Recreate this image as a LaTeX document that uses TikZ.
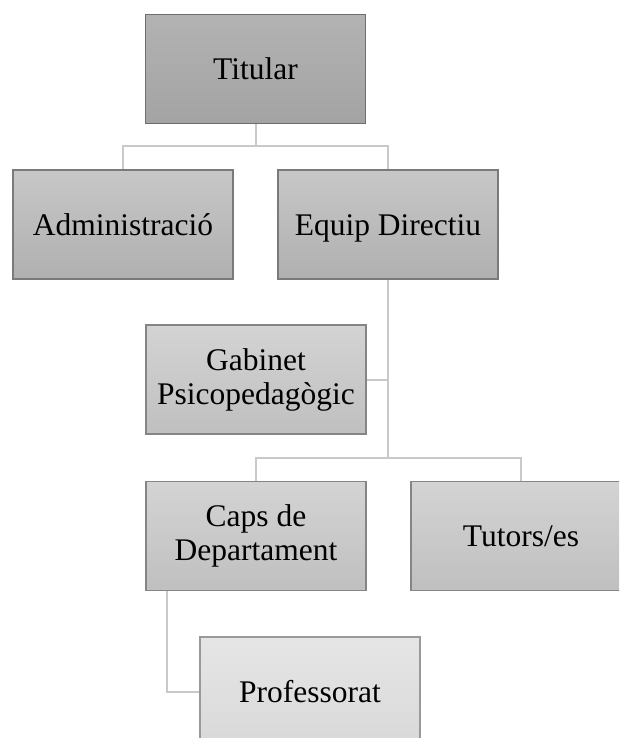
\documentclass[tikz,border=0pt]{standalone}
\usepackage{fontspec}
\setmainfont{Liberation Serif}
\begin{document}
\begin{tikzpicture}[x=1pt,y=-1pt,
  box/.style={rectangle, minimum width=220pt, minimum height=109pt, inner sep=2pt,
    align=center, line width=1.1pt, font=\fontsize{31.5}{34}\selectfont},
  oneline/.style={text height=21pt, text depth=0pt},
  lvA/.style={box, draw=black!57, top color=black!30, bottom color=black!36},
  lvB/.style={box, draw=black!52, top color=black!22, bottom color=black!31},
  lvC/.style={box, draw=black!48, top color=black!17, bottom color=black!25},
  lvD/.style={box, draw=black!40, top color=black!10, bottom color=black!15},
  conn/.style={draw=black!21, line width=2pt}]
\useasboundingbox (0,0) rectangle (619,738);
\clip (0,0) rectangle (619,738);
\node[lvA,oneline] (tit) at (255.5,69) {Titular};
\node[lvB,oneline] (adm) at (123,224.5) {Administració};
\node[lvB,oneline] (eq) at (388,224.5) {Equip Directiu};
\node[lvC] (gab) at (256,379.5) {Gabinet\\Psicopedagògic};
\node[lvC] (caps) at (256,536) {Caps de\\Departament};
\node[lvC,oneline] (tut) at (521,536) {Tutors/es};
\node[lvD,oneline] (prof) at (310,691.5) {Professorat};
\coordinate (b1) at (0,146.5);
\coordinate (b2) at (0,458);
\draw[conn] (tit.south) -- (tit.south |- b1) -| (adm.north);
\draw[conn] (tit.south |- b1) -| (eq.north);
\draw[conn] (eq.south) -- (eq.south |- b2);
\draw[conn] (gab.east) -- (gab.east -| eq.south);
\draw[conn] (eq.south |- b2) -| (caps.north);
\draw[conn] (eq.south |- b2) -| (tut.north);
\draw[conn] ([xshift=22pt]caps.south west) |- (prof.west);
\end{tikzpicture}
\end{document}
